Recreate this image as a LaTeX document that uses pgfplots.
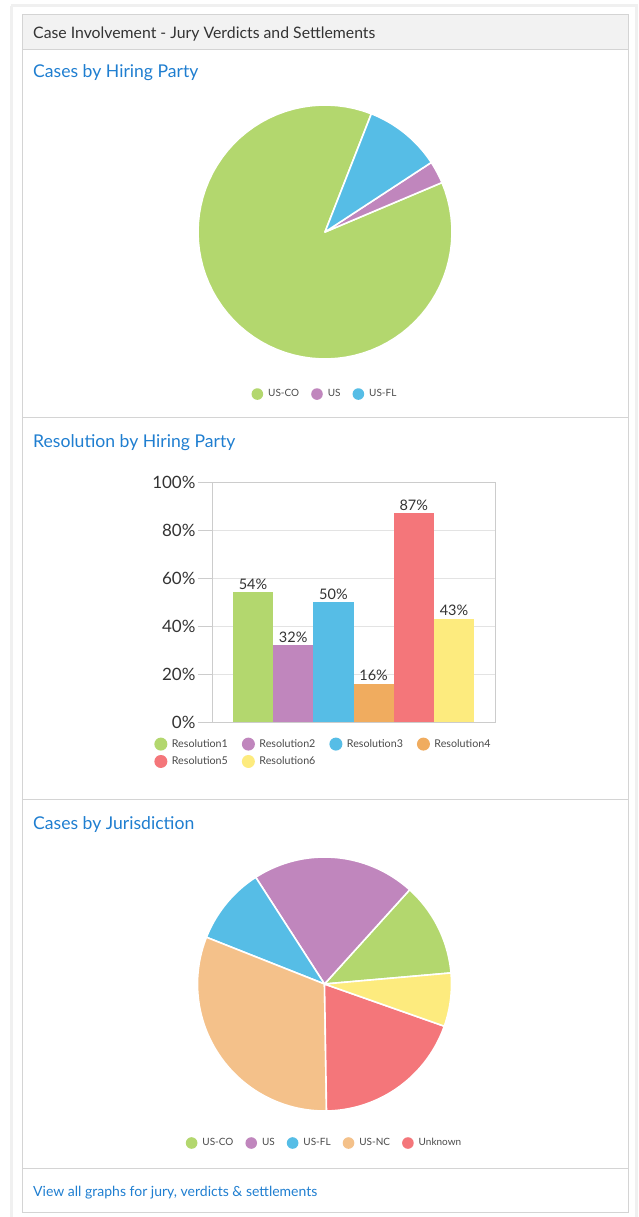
\documentclass[border=0pt]{standalone}
\usepackage{pgfplots}
\pgfplotsset{compat=1.18}
\usepackage{fontspec}
\setmainfont{Lato}
\definecolor{cgreen}{HTML}{B3D76E}
\definecolor{cpurple}{HTML}{C086BD}
\definecolor{cblue}{HTML}{56BDE6}
\definecolor{corange}{HTML}{F0AC5F}
\definecolor{cpeach}{HTML}{F4C18A}
\definecolor{cred}{HTML}{F4767A}
\definecolor{cyellow}{HTML}{FDEB7E}
\definecolor{ctitle}{HTML}{1F7ED0}
\definecolor{ctext}{HTML}{333333}
\definecolor{clegend}{HTML}{4A4A4A}
\definecolor{cborder}{HTML}{D4D4D4}
\definecolor{chead}{HTML}{F2F2F2}
\pgfplotsset{
  pieleg/.style={legend image code/.code={\fill[##1,draw=none] (0pt,0pt) circle (5.8pt);}},
  barleg/.style={legend image code/.code={\fill[##1,draw=none] (0pt,0pt) circle (6.5pt);}},
  slice/.style={fill=#1, draw=white, line width=1.6pt, line join=round, samples=80, pieleg},
}
\begin{document}
\begin{tikzpicture}
\path[use as bounding box] (0pt,0pt) rectangle (638pt,-1217pt);
% frame
\draw[gray!12, line width=3pt] (11pt,-6pt) -- (636pt,-6pt) -- (636pt,-1220pt);
\draw[gray!12, line width=3pt] (11pt,-6pt) -- (11pt,-1220pt);
\fill[chead] (22pt,-15pt) rectangle (628pt,-50pt);
\draw[cborder, line width=1pt] (22pt,-15pt) rectangle (628pt,-1212pt);
\draw[cborder, line width=1pt] (22pt,-50pt) -- (628pt,-50pt);
\draw[cborder, line width=1pt] (22pt,-417pt) -- (628pt,-417pt);
\draw[cborder, line width=1pt] (22pt,-799pt) -- (628pt,-799pt);
\draw[cborder, line width=1pt] (22pt,-1168pt) -- (628pt,-1168pt);
\node[anchor=west, inner sep=0pt, text=ctext, font=\fontsize{15.8}{18}\selectfont] at (33pt,-34.5pt) {Case Involvement - Jury Verdicts and Settlements};
\node[anchor=west, inner sep=0pt, text=ctitle, font=\fontsize{17.6}{20}\selectfont] at (33pt,-72.5pt) {Cases by Hiring Party};
\node[anchor=west, inner sep=0pt, text=ctitle, font=\fontsize{17.6}{20}\selectfont] at (33pt,-442.5pt) {Resolution by Hiring Party};
\node[anchor=west, inner sep=0pt, text=ctitle, font=\fontsize{17.6}{20}\selectfont] at (33pt,-824.5pt) {Cases by Jurisdiction};
\node[anchor=west, inner sep=0pt, text=ctitle, font=\fontsize{14}{16}\selectfont] at (33pt,-1192.5pt) {View all graphs for jury, verdicts \& settlements};

% ---------- Pie 1: Cases by Hiring Party (shares 87.3 / 2.9 / 9.8 %)
\begin{axis}[at={(325pt,-232pt)}, anchor=center, scale only axis,
  width=254pt, height=254pt, xmin=-1, xmax=1, ymin=-1, ymax=1,
  hide axis, clip=false,
  legend style={draw=none, at={(0.5,-0.138)}, anchor=center, legend columns=-1,
    font=\fontsize{10}{11}\selectfont, text=clegend,
    /tikz/every odd column/.append style={column sep=3pt},
    /tikz/every even column/.append style={column sep=10pt}},
  legend entries={US-CO, US, US-FL}]
\addplot[slice=cgreen, domain=68.6:382.9] ({cos(x)},{sin(x)}) -- (0,0) -- cycle;
\addplot[slice=cpurple, domain=382.9:393.2] ({cos(x)},{sin(x)}) -- (0,0) -- cycle;
\addplot[slice=cblue, domain=393.2:428.6] ({cos(x)},{sin(x)}) -- (0,0) -- cycle;
\end{axis}

% ---------- Bar chart: Resolution by Hiring Party
\begin{axis}[at={(212pt,-722pt)}, anchor=south west, scale only axis,
  width=283pt, height=240pt, ymin=0, ymax=100, xmin=-1, xmax=1,
  ybar=0pt, bar width=40.2pt, clip=false,
  ytick={0,20,40,60,80,100}, xtick=\empty,
  yticklabel={\pgfmathprintnumber{\tick}\%},
  /pgf/number format/assume math mode=true,
  yticklabel style={font=\fontsize{17}{19}\selectfont, text=ctext, xshift=1pt},
  ymajorgrids, grid style={gray!22, line width=0.8pt},
  axis line style={gray!40, line width=0.8pt},
  tick align=outside, major tick length=14pt, ytick pos=left,
  tick style={gray!40, line width=0.8pt},
  nodes near coords={\pgfmathprintnumber{\pgfplotspointmeta}\%},
  every node near coord/.append style={font=\fontsize{14.5}{16}\selectfont, text=ctext, inner sep=2.5pt},
  legend style={draw=none, at={(-0.215,-0.055)}, anchor=north west, legend columns=4,
    font=\fontsize{10.7}{12}\selectfont, text=clegend, row sep=4pt,
    /tikz/every odd column/.append style={column sep=2.5pt},
    /tikz/every even column/.append style={column sep=12pt}},
  legend cell align=left]
\addplot[fill=cgreen, draw=none, barleg] coordinates {(0,54)};
\addplot[fill=cpurple, draw=none, barleg] coordinates {(0,32)};
\addplot[fill=cblue, draw=none, barleg] coordinates {(0,50)};
\addplot[fill=corange, draw=none, barleg] coordinates {(0,16)};
\addplot[fill=cred, draw=none, barleg] coordinates {(0,87)};
\addplot[fill=cyellow, draw=none, barleg] coordinates {(0,43)};
\legend{Resolution1, Resolution2, Resolution3, Resolution4, Resolution5, Resolution6}
\end{axis}

% ---------- Pie 2: Cases by Jurisdiction (shares 11.9 / 20.8 / 9.9 / 31.3 / 19.4 / 6.8 %)
\begin{axis}[at={(324.5pt,-984pt)}, anchor=center, scale only axis,
  width=254pt, height=254pt, xmin=-1, xmax=1, ymin=-1, ymax=1,
  hide axis, clip=false,
  legend style={draw=none, at={(0.5,-0.126)}, anchor=center, legend columns=-1,
    font=\fontsize{10}{11}\selectfont, text=clegend,
    /tikz/every odd column/.append style={column sep=3pt},
    /tikz/every even column/.append style={column sep=10pt}},
  legend entries={US-CO, US, US-FL, US-NC, Unknown}]
\addplot[slice=cgreen, domain=5.0:47.9] ({cos(x)},{sin(x)}) -- (0,0) -- cycle;
\addplot[slice=cpurple, domain=47.9:122.8] ({cos(x)},{sin(x)}) -- (0,0) -- cycle;
\addplot[slice=cblue, domain=122.8:158.4] ({cos(x)},{sin(x)}) -- (0,0) -- cycle;
\addplot[slice=cpeach, domain=158.4:270.9] ({cos(x)},{sin(x)}) -- (0,0) -- cycle;
\addplot[slice=cred, domain=270.9:340.6] ({cos(x)},{sin(x)}) -- (0,0) -- cycle;
\addplot[slice=cyellow, domain=340.6:365.0, forget plot] ({cos(x)},{sin(x)}) -- (0,0) -- cycle;
\end{axis}
\end{tikzpicture}
\end{document}
